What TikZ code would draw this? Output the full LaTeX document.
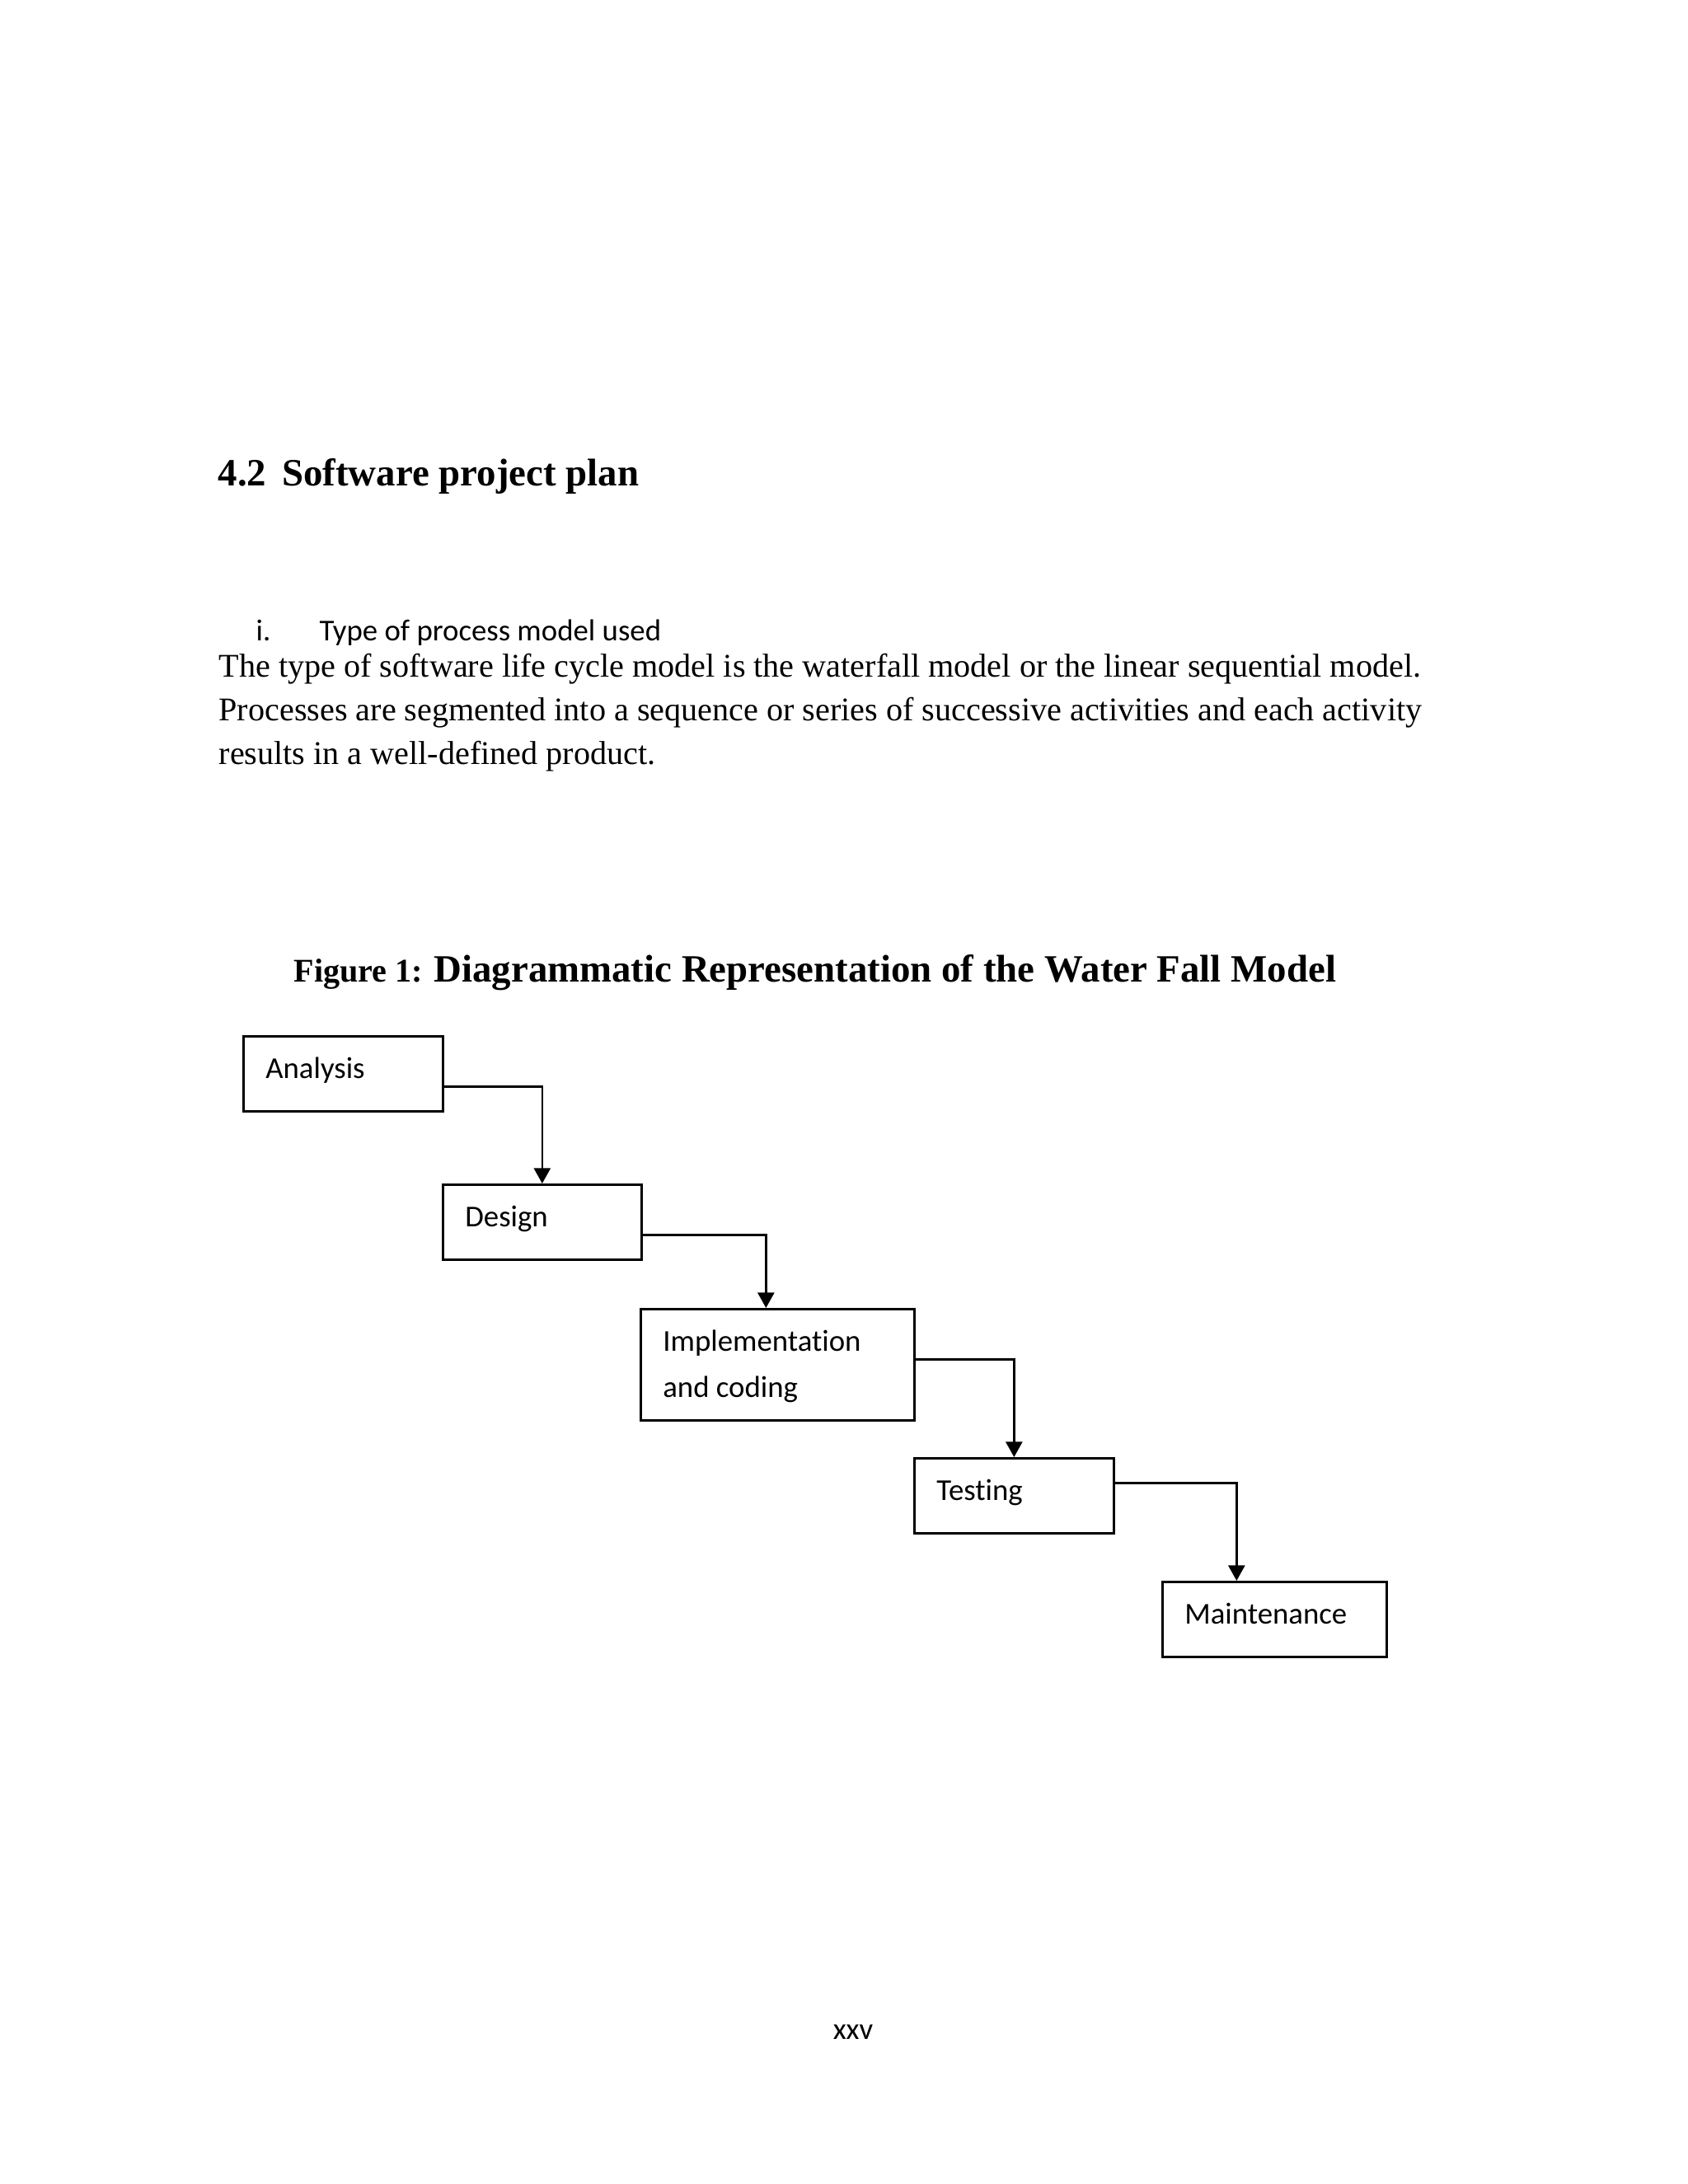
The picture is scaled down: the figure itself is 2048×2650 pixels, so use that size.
\documentclass[tikz,border=0pt]{standalone}
\usepackage{fontspec}
\setmainfont{Liberation Serif}
\newfontfamily\calibri[Ligatures=NoCommon]{Carlito}
\usetikzlibrary{arrows.meta}

\begin{document}
\begin{tikzpicture}
    [
        x=0.29883pt, y=-0.29883pt,
        stage/.style={rectangle, draw, line width=0.8pt, anchor=north west, align=flush left,
            inner xsep=8.07pt, inner ysep=0pt, text height=15.24pt, text depth=11.95pt,
            font=\calibri\fontsize{11}{16.7}\selectfont},
        flow/.style={-{Triangle[length=5.6pt,width=6pt]}, line width=0.8pt},
        heading/.style={anchor=base west, inner sep=0pt, font=\bfseries\fontsize{14}{16}\selectfont},
        body/.style={anchor=base west, inner sep=0pt, align=flush left, text width=470pt,
            font=\fontsize{12}{15.84}\selectfont},
        listitem/.style={anchor=base west, inner sep=0pt, font=\calibri\fontsize{11}{13}\selectfont},
    ]
    \useasboundingbox (0,0) rectangle (2048,2650);

    \node (sect) at (264,589) [heading] {4.2\hspace{5.7pt}Software project plan};
    \node (itemno) at (310,777) [listitem] {i.};
    \node (itemtext) at (387,777) [listitem] {Type of process model used};
    \node (para) at (265,821) [body]
        {The type of software life cycle model is the waterfall model or the linear sequential model.\\
         Processes are segmented into a sequence or series of successive activities and each activity\\
         results in a well-defined product.};
    \node (caption) at (356,1191) [anchor=base west, inner sep=0pt, font=\bfseries]
        {\fontsize{12}{14}\selectfont Figure 1: \fontsize{14}{16}\selectfont Diagrammatic Representation of the Water Fall Model};

    \node (analysis) at (294,1256) [stage, text width=56.18pt] {Analysis};
    \node (design) at (536,1436) [stage, text width=55.88pt] {Design};
    \node (impl) at (776,1587) [stage, text width=83.07pt, text depth=25.10pt] {Implementation\\and coding};
    \node (testing) at (1108,1768) [stage, text width=56.18pt] {Testing};
    \node (maint) at (1409,1918) [stage, text width=65.14pt] {Maintenance};

    \draw [flow] (analysis.east) ++(0,15.5) -| (design.north);
    \draw [flow] (design.east) ++(0,15.5) -| ([xshift=-4.18pt]impl.north);
    \draw [flow] (impl.east) ++(0,-6.5) -| (testing.north);
    \draw [flow] (testing.east) ++(0,-15.5) -| ([xshift=-13.75pt]maint.north);

    \node (pageno) at (1035,2474) [anchor=base, inner sep=0pt, font=\calibri\fontsize{11}{13}\selectfont] {xxv};
\end{tikzpicture}
\end{document}
